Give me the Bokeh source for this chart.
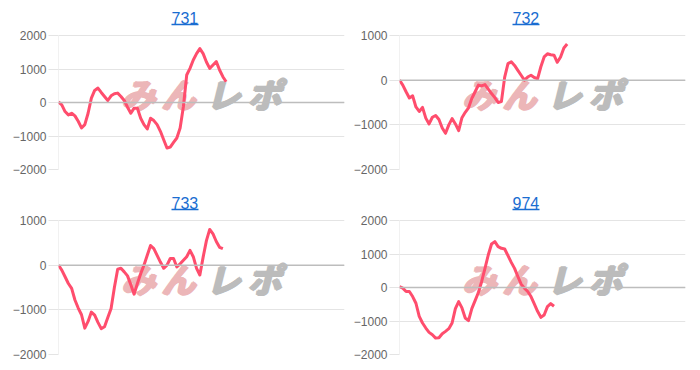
from bokeh.plotting import figure
from bokeh.layouts import gridplot
from bokeh.models import Range1d, FixedTicker, Span, Label, Arrow
from bokeh.embed import file_html
from bokeh.resources import INLINE

titles = ["731", "732", "733", "974"]

s731 = [20, -70, -270, -370, -320, -400, -560, -760, -660, -320, 130, 360, 430, 300, 180, 60,
        200, 260, 280, 180, 60, -140, -320, -170, -170, -470, -660, -790, -470, -540, -660,
        -860, -1110, -1360, -1330, -1190, -1060, -760, -120, 820, 1020, 1270, 1460, 1610,
        1460, 1210, 1020, 1120, 1220, 970, 770, 620]
s732 = [0, -110, -260, -400, -350, -600, -700, -610, -850, -980, -830, -790, -880, -1070,
        -1190, -1000, -860, -980, -1130, -840, -720, -620, -410, -260, -110, -130, -100, -200,
        -300, -390, -500, -480, 70, 370, 410, 330, 220, 110, 0, 70, 110, 60, 30, 300, 520, 590,
        570, 560, 400, 520, 720, 810]
s733 = [0, -110, -260, -410, -520, -780, -960, -1110, -1410, -1260, -1050, -1120, -1280, -1420,
        -1380, -1170, -970, -500, -90, -70, -150, -240, -440, -650, -410, -190, 0, 220, 440, 370,
        220, 70, -70, 0, 150, 150, -40, 30, 110, 190, 330, 190, -70, -220, 180, 550, 800, 700,
        530, 400, 370]
s974 = [30, -20, -120, -120, -270, -470, -860, -1060, -1210, -1340, -1410, -1510, -1500, -1380,
        -1310, -1230, -1060, -630, -420, -610, -910, -990, -630, -390, -150, 180, 570, 970, 1300,
        1370, 1220, 1170, 1150, 950, 750, 570, 330, 100, -20, -120, -270, -490, -710, -890, -820,
        -570, -480, -560]

series = [s731, s732, s733, s974]
y_lows = [-2000, -2000, -2000, -2000]
y_highs = [2000, 1000, 1000, 2000]
y_ticks = [[-2000, -1000, 0, 1000, 2000], [-2000, -1000, 0, 1000],
           [-2000, -1000, 0, 1000], [-2000, -1000, 0, 1000, 2000]]
x_span = 87

lefts = [58, 48, 54, 45]
PLOT_H = 134   # pixel height of the value area
HEAD = 35      # header space above value area (inside frame, for the title)

LINE = "#ff4d6d"
GRID = "#e4e4e4"
ZERO = "#bdbdbd"
TITLE_BLUE = "#1a6dd1"
PINK = "#ecb6b8"
GRAY = "#bcbcbc"

figs = []
for i in range(4):
    fl = lefts[i]
    lo, hi = y_lows[i], y_highs[i]
    top = hi + HEAD * (hi - lo) / PLOT_H
    p = figure(width=350, height=185, output_backend="svg", toolbar_location=None,
               x_range=Range1d(0, x_span), y_range=Range1d(lo, top),
               min_border_left=fl, min_border_right=350 - fl - 290,
               min_border_top=0, min_border_bottom=16, title=None)
    p.outline_line_color = None
    p.background_fill_color = "white"
    p.border_fill_color = "white"
    p.xaxis.visible = False
    p.xgrid.visible = False
    p.yaxis.ticker = FixedTicker(ticks=y_ticks[i])
    p.yaxis.axis_line_color = None
    p.yaxis.major_tick_line_color = GRID
    p.yaxis.major_tick_out = 10
    p.yaxis.major_tick_in = 0
    p.yaxis.minor_tick_line_color = None
    p.yaxis.major_label_standoff = 2
    p.yaxis.major_label_text_font = "Liberation Sans"
    p.yaxis.major_label_text_font_size = "12px"
    p.yaxis.major_label_text_color = "#666666"
    p.ygrid.ticker = FixedTicker(ticks=y_ticks[i])
    p.ygrid.grid_line_color = GRID
    # left axis line only over the value range
    p.segment(x0=[0], y0=[lo], x1=[0], y1=[hi], line_color=GRID, line_width=1)
    p.add_layout(Span(location=0, dimension="width", line_color=ZERO, line_width=1.5))

    # title (link style, underlined)
    p.add_layout(Label(x=113, y=PLOT_H + HEAD - 17, x_units="screen", y_units="screen",
                       text=titles[i], text_font="Liberation Sans", text_font_size="16px",
                       text_color=TITLE_BLUE, text_align="left", text_baseline="alphabetic"))
    p.add_layout(Arrow(x_start=113, x_end=113 + 27, y_start=PLOT_H + HEAD - 24,
                       y_end=PLOT_H + HEAD - 24, start_units="screen", end_units="screen",
                       start=None, end=None, line_color=TITLE_BLUE, line_width=1.3))

    # watermark logo (faux-bold by stacking copies)
    wm = [("み", 80, PINK), ("ん", 120, PINK), ("レ", 165, GRAY), ("ポ", 206, GRAY)]
    for ch, cx, col in wm:
        for dx, dy in [(-1.5, 0), (0, 0), (1.5, 0), (0, 1), (0, -1)]:
            p.add_layout(Label(x=cx + dx, y=76 + dy, x_units="screen", y_units="screen", text=ch,
                               text_font="Noto Sans CJK JP", text_font_size="34px",
                               text_font_style="bold italic", text_color=col,
                               text_align="center", text_baseline="middle", level="underlay"))

    xs = list(range(len(series[i])))
    p.line(xs, series[i], line_color=LINE, line_width=3, line_join="round")
    figs.append(p)

grid = gridplot([[figs[0], figs[1]], [figs[2], figs[3]]], toolbar_location=None)
open("out.html", "w").write(file_html(grid, INLINE))
